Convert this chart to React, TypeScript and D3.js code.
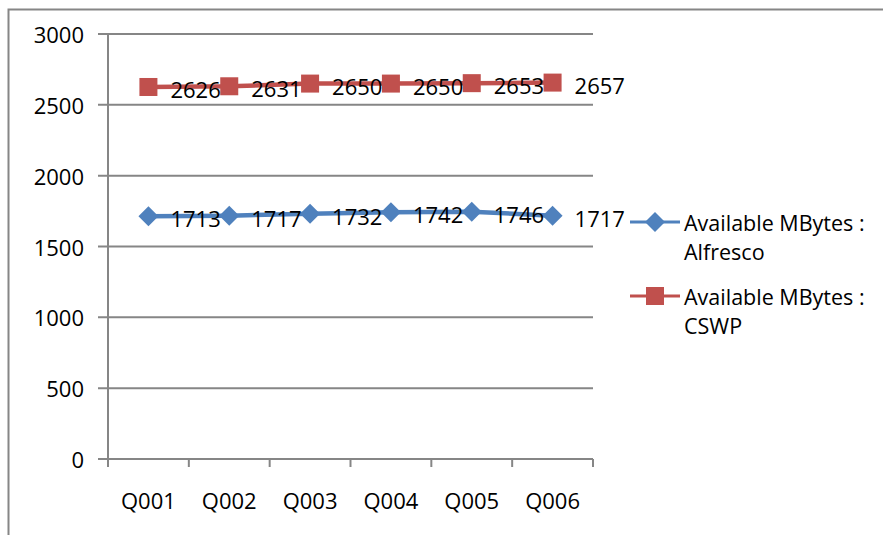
import React from "react";
import * as d3 from "d3";

const categories = ["Q001", "Q002", "Q003", "Q004", "Q005", "Q006"];
const alfresco = [1713, 1717, 1732, 1742, 1746, 1717];
const cswp = [2626, 2631, 2650, 2650, 2653, 2657];
const yTicks = [0, 500, 1000, 1500, 2000, 2500, 3000];

const W = 883;
const H = 535;
const FONT = "'Open Sans', 'Noto Sans', sans-serif";
const FS = 22;
const BLUE = "#4F81BD";
const RED = "#C0504D";
const GRID = "#868686";

const plot = { left: 108, right: 593, top: 34, bottom: 459 };

export default function App() {
  const x = d3.scaleBand<string>().domain(categories).range([plot.left, plot.right]);
  const y = d3.scaleLinear().domain([0, 3000]).range([plot.bottom, plot.top]);
  const cx = (c: string) => (x(c) as number) + x.bandwidth() / 2;

  const line = d3
    .line<number>()
    .x((_, i) => cx(categories[i]))
    .y((d) => y(d));

  const diamond = (px: number, py: number, r: number) =>
    `M${px},${py - r}L${px + r},${py}L${px},${py + r}L${px - r},${py}Z`;

  const series = [
    { name: "Alfresco", values: alfresco, color: BLUE, marker: "diamond" },
    { name: "CSWP", values: cswp, color: RED, marker: "square" },
  ];

  const xTickPositions = d3.range(categories.length + 1).map((i) => plot.left + i * x.step());

  const legendItems = [
    { label: ["Available MBytes :", "Alfresco"], color: BLUE, marker: "diamond", y: 222 },
    { label: ["Available MBytes :", "CSWP"], color: RED, marker: "square", y: 296 },
  ];

  const drawMarker = (m: string, px: number, py: number, color: string, key: string) =>
    m === "diamond" ? (
      <path key={key} d={diamond(px, py, 10)} fill={color} />
    ) : (
      <rect key={key} x={px - 9} y={py - 9} width={18} height={18} fill={color} />
    );

  return (
    <svg
      width={W}
      height={H}
      style={{ position: "absolute", left: 0, top: 0, background: "#fff" }}
      fontFamily={FONT}
    >
      {/* chart frame */}
      <rect x={8.5} y={9.5} width={W + 20} height={H + 20} fill="none" stroke={GRID} strokeWidth={2} />

      {/* horizontal gridlines and y tick labels */}
      {yTicks.map((t) => (
        <g key={t}>
          <line x1={plot.left - 10} x2={plot.right} y1={y(t)} y2={y(t)} stroke={GRID} strokeWidth={2} />
          <text x={84} y={y(t)} textAnchor="end" dominantBaseline="central" fontSize={FS} fill="#000">
            {t}
          </text>
        </g>
      ))}

      {/* y axis */}
      <line x1={plot.left} x2={plot.left} y1={plot.top} y2={plot.bottom} stroke={GRID} strokeWidth={2} />

      {/* x ticks */}
      {xTickPositions.map((px, i) => (
        <line key={i} x1={px} x2={px} y1={plot.bottom} y2={plot.bottom + 8} stroke={GRID} strokeWidth={2} />
      ))}

      {/* x labels */}
      {categories.map((c) => (
        <text key={c} x={cx(c)} y={500} textAnchor="middle" dominantBaseline="central" fontSize={FS} fill="#000">
          {c}
        </text>
      ))}

      {/* series lines and markers */}
      {series.map((s) => (
        <g key={s.name}>
          <path d={line(s.values) as string} fill="none" stroke={s.color} strokeWidth={4.5} />
          {s.values.map((v, i) => drawMarker(s.marker, cx(categories[i]), y(v), s.color, `${s.name}-${i}`))}
        </g>
      ))}

      {/* data labels */}
      {series.map((s) =>
        s.values.map((v, i) => (
          <text
            key={`${s.name}-l-${i}`}
            x={cx(categories[i]) + 22}
            y={y(v) + 2}
            dominantBaseline="central"
            fontSize={FS}
            fill="#000"
          >
            {v}
          </text>
        ))
      )}

      {/* legend */}
      {legendItems.map((l, i) => (
        <g key={i}>
          <line x1={630} x2={680} y1={l.y} y2={l.y} stroke={l.color} strokeWidth={3} />
          {drawMarker(l.marker, 655, l.y, l.color, `lg-${i}`)}
          {l.label.map((t, j) => (
            <text key={j} x={684} y={l.y + j * 29} dominantBaseline="central" fontSize={FS - 0.5} fill="#000">
              {t}
            </text>
          ))}
        </g>
      ))}
    </svg>
  );
}
